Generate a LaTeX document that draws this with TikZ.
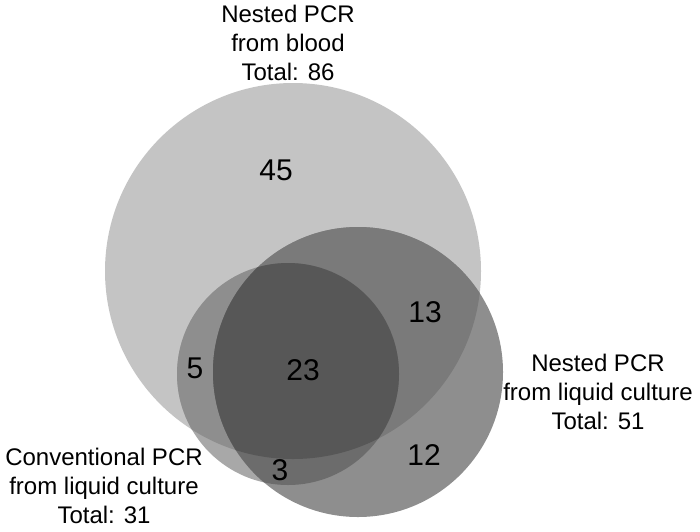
\documentclass[tikz,border=0pt]{standalone}
\usepackage{fontspec}
\setmainfont{Liberation Sans}
\definecolor{cBig}{gray}{0.77}
\definecolor{cConv}{gray}{0.66}
\definecolor{cFive}{gray}{0.557}
\definecolor{cTwelve}{gray}{0.557}
\definecolor{cThirteen}{gray}{0.478}
\definecolor{cThree}{gray}{0.424}
\definecolor{cCore}{gray}{0.341}
\tikzset{
  setlabel/.style={align=center, font=\fontsize{24}{29}\selectfont, inner sep=0pt},
  countlabel/.style={font=\fontsize{30}{30}\selectfont, inner sep=0pt}
}
\begin{document}
\begin{tikzpicture}[x=1pt,y=-1pt]
\useasboundingbox (0,0) rectangle (700,531);
\coordinate (cb) at (293,271);
\coordinate (cc) at (288,374);
\coordinate (cn) at (358,372);
\def\rb{188}
\def\rc{111}
\def\rn{145}
% big circle
\fill[cBig] (cb) circle[radius=\rb];
% conventional
\fill[cConv] (cc) circle[radius=\rc];
\begin{scope}
  \clip (cb) circle[radius=\rb];
  \fill[cFive] (cc) circle[radius=\rc];
\end{scope}
% nested liquid
\fill[cTwelve] (cn) circle[radius=\rn];
\begin{scope}
  \clip (cb) circle[radius=\rb];
  \fill[cThirteen] (cn) circle[radius=\rn];
\end{scope}
\begin{scope}
  \clip (cc) circle[radius=\rc];
  \fill[cThree] (cn) circle[radius=\rn];
\end{scope}
\begin{scope}
  \clip (cb) circle[radius=\rb];
  \clip (cc) circle[radius=\rc];
  \fill[cCore] (cn) circle[radius=\rn];
\end{scope}
% set labels
\node[setlabel] (lblood) at (288,43) {Nested PCR\\from blood\\Total: 86};
\node[setlabel] (lnested) at (598,392) {Nested PCR\\from liquid culture\\Total: 51};
\node[setlabel] (lconv) at (104,486) {Conventional PCR\\from liquid culture\\Total: 31};
% counts
\node[countlabel] (n45) at (276,170) {45};
\node[countlabel] (n13) at (425,312) {13};
\node[countlabel] (n5) at (195,368) {5};
\node[countlabel] (n23) at (303,370) {23};
\node[countlabel] (n12) at (424,455) {12};
\node[countlabel] (n3) at (280,470) {3};
\end{tikzpicture}
\end{document}
